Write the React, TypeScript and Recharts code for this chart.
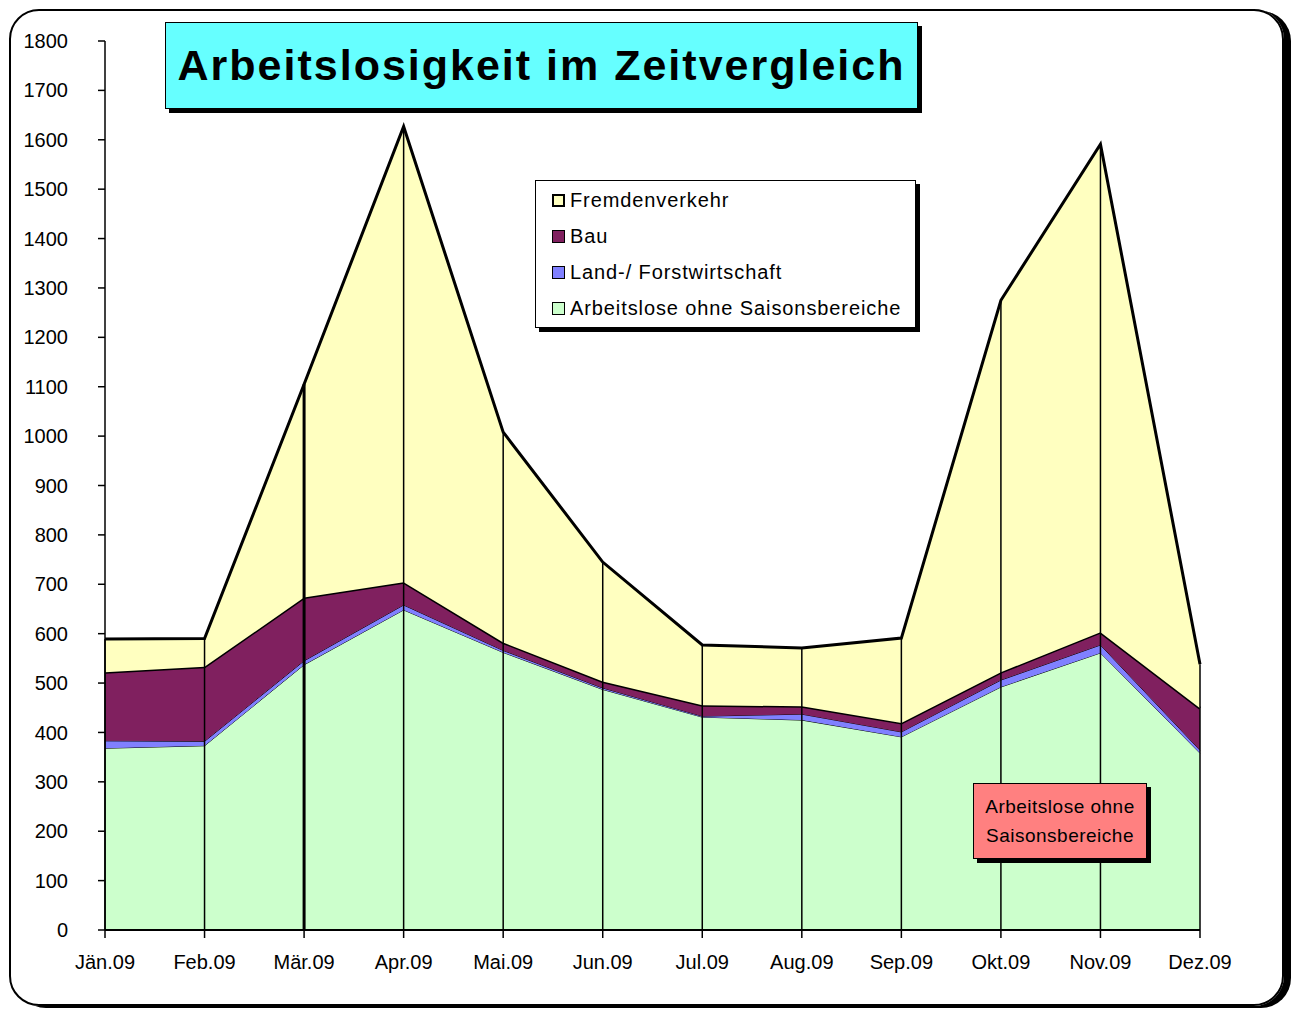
import React from "react";
import { AreaChart, Area, XAxis, YAxis, ReferenceLine } from "recharts";

const months = [
  "Jän.09",
  "Feb.09",
  "Mär.09",
  "Apr.09",
  "Mai.09",
  "Jun.09",
  "Jul.09",
  "Aug.09",
  "Sep.09",
  "Okt.09",
  "Nov.09",
  "Dez.09",
];
const ohneSaison = [368, 373, 537, 648, 562, 487, 431, 425, 391, 492, 561, 358];
const landForst = [15, 9, 8, 10, 4, 3, 2, 12, 10, 14, 16, 6];
const bau = [139, 151, 128, 46, 16, 13, 22, 16, 18, 16, 26, 85];
const fremden = [67, 57, 432, 923, 426, 242, 122, 118, 172, 753, 988, 89];
const yTicks = [
  0, 100, 200, 300, 400, 500, 600, 700, 800, 900, 1000, 1100, 1200, 1300, 1400,
  1500, 1600, 1700, 1800,
];

const data = months.map((m, i) => ({
  month: m,
  ohne: ohneSaison[i],
  land: landForst[i],
  bau: bau[i],
  fremden: fremden[i],
  total: ohneSaison[i] + landForst[i] + bau[i] + fremden[i],
}));

const FONT = '"Liberation Sans", Arial, sans-serif';

// legend order is top-down, reverse of stacking
const legendItems = [
  { name: "Fremdenverkehr", color: "#FFFFC0", thick: true },
  { name: "Bau", color: "#80205F", thick: false },
  { name: "Land-/ Forstwirtschaft", color: "#8080FF", thick: false },
  { name: "Arbeitslose ohne Saisonsbereiche", color: "#CCFFCC", thick: false },
];

function LegendBox() {
  return (
    <div
      style={{
        position: "absolute",
        left: 535,
        top: 180,
        width: 381,
        height: 148,
        boxSizing: "border-box",
        border: "1px solid #000",
        background: "#fff",
        boxShadow: "4px 4px 0 #000",
        padding: "0 0 0 16px",
        fontFamily: FONT,
        fontSize: 20,
        letterSpacing: 0.9,
        color: "#000",
      }}
    >
      {legendItems.map((it, i) => (
        <div
          key={it.name}
          style={{
            display: "flex",
            alignItems: "center",
            height: i === 1 ? 36 : 36,
            marginTop: i === 0 ? 1 : 0,
          }}
        >
          <span
            style={{
              display: "inline-block",
              width: 13,
              height: 13,
              boxSizing: "border-box",
              background: it.color,
              border: `${it.thick ? 2 : 1}px solid #000`,
              marginRight: 5,
            }}
          />
          <span>{it.name}</span>
        </div>
      ))}
    </div>
  );
}

export default function App() {
  return (
    <div
      style={{
        position: "absolute",
        left: 0,
        top: 0,
        width: 1294,
        height: 1010,
        background: "#fff",
        fontFamily: FONT,
      }}
    >
      {/* outer rounded frame */}
      <div
        style={{
          position: "absolute",
          left: 9,
          top: 9,
          width: 1275,
          height: 997,
          boxSizing: "border-box",
          border: "2px solid #000",
          borderRadius: 30,
          boxShadow: "7px 2px 0 #000",
        }}
      />

      <div style={{ position: "absolute", left: 0, top: 0 }}>
        <AreaChart
          width={1294}
          height={1010}
          data={data}
          margin={{ top: 41, right: 94, left: 45, bottom: 40 }}
        >
          <XAxis
            dataKey="month"
            height={40}
            axisLine={{ stroke: "#000", strokeWidth: 2 }}
            tickLine={{ stroke: "#000", strokeWidth: 1.5 }}
            tickSize={8}
            tickMargin={17}
            tick={{ fontSize: 20, fill: "#000", fontFamily: FONT }}
            interval={0}
          />
          <YAxis
            width={60}
            domain={[0, 1800]}
            ticks={yTicks}
            interval={0}
            axisLine={{ stroke: "#000", strokeWidth: 1.5 }}
            tickLine={{ stroke: "#000", strokeWidth: 1.5 }}
            tickSize={7}
            tickMargin={30}
            tick={{ fontSize: 20, fill: "#000", fontFamily: FONT }}
          />
          <Area
            type="linear"
            dataKey="ohne"
            name="Arbeitslose ohne Saisonsbereiche"
            stackId="a"
            fill="#CCFFCC"
            fillOpacity={1}
            stroke="#000"
            strokeWidth={1}
            isAnimationActive={false}
          />
          <Area
            type="linear"
            dataKey="land"
            name="Land-/ Forstwirtschaft"
            stackId="a"
            fill="#8080FF"
            fillOpacity={1}
            stroke="#000"
            strokeWidth={1}
            isAnimationActive={false}
          />
          <Area
            type="linear"
            dataKey="bau"
            name="Bau"
            stackId="a"
            fill="#80205F"
            fillOpacity={1}
            stroke="#000"
            strokeWidth={3}
            isAnimationActive={false}
          />
          <Area
            type="linear"
            dataKey="fremden"
            name="Fremdenverkehr"
            stackId="a"
            fill="#FFFFC0"
            fillOpacity={1}
            stroke="#000"
            strokeWidth={3}
            isAnimationActive={false}
          />
          {data.map((d) => (
            <ReferenceLine
              key={d.month}
              segment={[
                { x: d.month, y: 0 },
                { x: d.month, y: d.total },
              ]}
              stroke="#000"
              strokeWidth={d.month === "Mär.09" ? 3 : 1.5}
            />
          ))}
        </AreaChart>
      </div>

      {/* title */}
      <div
        style={{
          position: "absolute",
          left: 165,
          top: 22,
          width: 753,
          height: 87,
          boxSizing: "border-box",
          background: "#66FFFF",
          border: "1px solid #000",
          boxShadow: "4px 4px 0 #000",
          display: "flex",
          alignItems: "center",
          justifyContent: "center",
          fontWeight: "bold",
          fontSize: 43,
          letterSpacing: 2,
          color: "#000",
        }}
      >
        Arbeitslosigkeit im Zeitvergleich
      </div>

      <LegendBox />

      {/* annotation */}
      <div
        style={{
          position: "absolute",
          left: 973,
          top: 783,
          width: 174,
          height: 76,
          boxSizing: "border-box",
          background: "#FF8080",
          border: "1px solid #000",
          boxShadow: "4px 4px 0 #000",
          display: "flex",
          flexDirection: "column",
          alignItems: "center",
          justifyContent: "center",
          fontSize: 19,
          letterSpacing: 0.5,
          lineHeight: "29px",
          color: "#000",
        }}
      >
        <span>Arbeitslose ohne</span>
        <span>Saisonsbereiche</span>
      </div>
    </div>
  );
}
